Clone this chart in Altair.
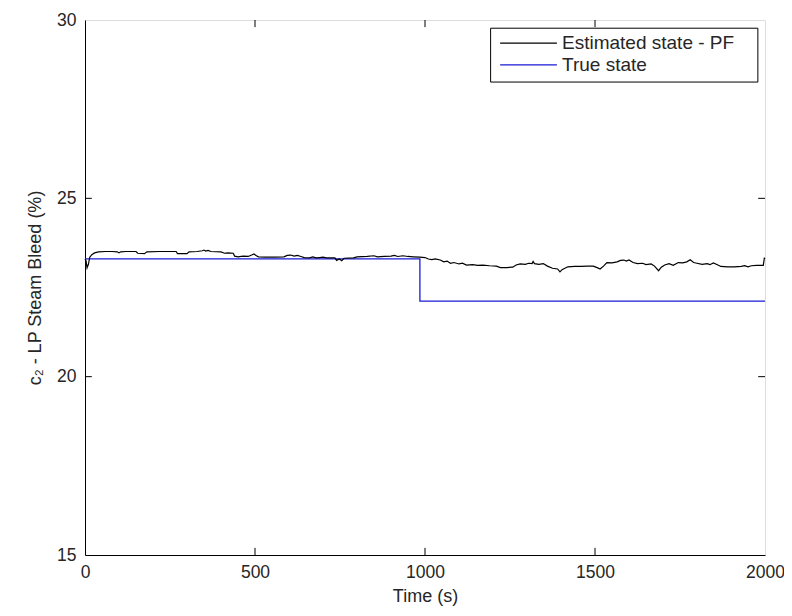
import altair as alt
import pandas as pd

# ---------------- data ----------------
est_time = [0, 3, 6, 10, 14, 20, 28, 40, 60, 80, 95, 100, 105, 120, 150, 155, 175, 182, 220, 240,
            268, 272, 300, 306, 330, 345, 350, 355, 362, 370, 400, 405, 410, 420, 436, 440, 450, 465,
            480, 490, 497, 503, 510, 530, 560, 585, 595, 605, 615, 625, 635, 645, 660, 670, 680, 690,
            700, 710, 735, 740, 748, 755, 762, 790, 800, 830, 850, 860, 880, 900, 910, 920, 935, 950,
            965, 985, 1000, 1010, 1020, 1030, 1045, 1055, 1065, 1075, 1085, 1100, 1110, 1122, 1140,
            1155, 1170, 1190, 1210, 1222, 1240, 1258, 1268, 1280, 1295, 1305, 1315, 1318, 1322, 1335,
            1348, 1360, 1375, 1390, 1397, 1403, 1420, 1440, 1460, 1476, 1495, 1508, 1515, 1525, 1535,
            1550, 1565, 1575, 1585, 1592, 1600, 1612, 1625, 1640, 1650, 1665, 1675, 1687, 1695, 1705,
            1718, 1730, 1745, 1758, 1770, 1780, 1790, 1800, 1815, 1830, 1838, 1848, 1860, 1870, 1890,
            1910, 1930, 1940, 1950, 1960, 1975, 1990, 1995, 1998, 2000]
est_value = [23.30, 23.25, 23.05, 23.15, 23.35, 23.42, 23.47, 23.50, 23.51, 23.51, 23.50, 23.47, 23.50,
             23.51, 23.51, 23.46, 23.45, 23.50, 23.51, 23.51, 23.51, 23.45, 23.45, 23.50, 23.51, 23.53,
             23.55, 23.52, 23.54, 23.51, 23.50, 23.48, 23.46, 23.47, 23.46, 23.38, 23.36, 23.38, 23.37,
             23.41, 23.44, 23.40, 23.36, 23.35, 23.35, 23.36, 23.40, 23.41, 23.38, 23.40, 23.37, 23.34,
             23.33, 23.36, 23.33, 23.34, 23.35, 23.33, 23.33, 23.26, 23.30, 23.25, 23.32, 23.33, 23.36,
             23.37, 23.39, 23.36, 23.37, 23.38, 23.40, 23.37, 23.39, 23.37, 23.36, 23.35, 23.34, 23.30,
             23.28, 23.30, 23.27, 23.22, 23.24, 23.18, 23.20, 23.16, 23.18, 23.13, 23.14, 23.12, 23.13,
             23.11, 23.10, 23.06, 23.06, 23.07, 23.13, 23.16, 23.15, 23.18, 23.17, 23.23, 23.17, 23.15,
             23.17, 23.10, 23.04, 23.02, 22.94, 23.00, 23.08, 23.09, 23.09, 23.10, 23.10, 23.05, 23.02,
             23.10, 23.20, 23.19, 23.22, 23.26, 23.27, 23.24, 23.27, 23.20, 23.17, 23.18, 23.14, 23.16,
             23.10, 22.97, 23.07, 23.13, 23.17, 23.12, 23.20, 23.19, 23.22, 23.28, 23.20, 23.18, 23.15,
             23.17, 23.14, 23.19, 23.14, 23.09, 23.08, 23.08, 23.09, 23.11, 23.08, 23.11, 23.12, 23.12,
             23.12, 23.32, 23.30]
true_time = [0, 985, 985, 2000]
true_value = [23.3, 23.3, 22.12, 22.12]

x_ticks = [0, 500, 1000, 1500, 2000]
y_ticks = [15, 20, 25, 30]
legend_labels = ["Estimated state - PF", "True state"]
colors = ["#000000", "#1a1ad6"]

FONT = "Liberation Sans"
TXT = "#262626"

xscale = alt.Scale(domain=[0, 2000], nice=False, zero=False)
yscale = alt.Scale(domain=[15, 30], nice=False, zero=False)

xaxis = alt.Axis(values=x_ticks, format="d", grid=False, ticks=False, tickSize=0,
                 labelPadding=8, labelFontSize=17.5, labelFont=FONT, labelColor=TXT,
                 domainColor="black", title="Time (s)", titleFont=FONT, titleFontSize=18,
                 titleFontWeight="normal", titleColor=TXT, titlePadding=7,
                 labelFlush=False, labelOverlap=False)
yaxis = alt.Axis(values=y_ticks, format="d", grid=False, ticks=False, tickSize=0,
                 labelPadding=9, labelFontSize=17.5, labelFont=FONT, labelColor=TXT,
                 domainColor="black", title="c₂ - LP Steam Bleed (%)", titleFont=FONT,
                 titleFontSize=18, titleFontWeight="normal", titleColor=TXT, titlePadding=12,
                 labelFlush=False, labelOverlap=False)


def X(field="t"):
    return alt.X(f"{field}:Q", scale=xscale, axis=xaxis)


def Y(field="v"):
    return alt.Y(f"{field}:Q", scale=yscale, axis=yaxis)


est_df = pd.DataFrame({"t": est_time, "v": est_value, "o": list(range(len(est_time)))})
true_df = pd.DataFrame({"t": true_time, "v": true_value, "o": list(range(len(true_time)))})

est_line = alt.Chart(est_df).mark_line(color=colors[0], strokeWidth=1.2).encode(
    x=X(), y=Y(), order="o:Q")
true_line = alt.Chart(true_df).mark_line(color=colors[1], strokeWidth=1.3).encode(
    x=X(), y=Y(), order="o:Q")

# inward tick marks (MATLAB box style)
tick_rows = []
for xv in x_ticks[1:-1]:
    tick_rows.append({"t": xv, "t2": xv, "v": 15, "v2": 15.2})
    tick_rows.append({"t": xv, "t2": xv, "v": 29.8, "v2": 30})
for yv in y_ticks[1:-1]:
    tick_rows.append({"t": 0, "t2": 20, "v": yv, "v2": yv})
    tick_rows.append({"t": 1980, "t2": 2000, "v": yv, "v2": yv})
ticks = alt.Chart(pd.DataFrame(tick_rows)).mark_rule(color="black", strokeWidth=1).encode(
    x=X(), x2="t2:Q", y=Y(), y2="v2:Q")

# legend (in data coordinates)
box = alt.Chart(pd.DataFrame([{"t": 1193, "t2": 1979, "v": 28.26, "v2": 29.77}])).mark_rect(
    fill="white", stroke="black", strokeWidth=1).encode(x=X(), x2="t2:Q", y=Y(), y2="v2:Q")
leg_rows = [{"t": 1221, "t2": 1388, "v": 29.35, "v2": 29.35, "lab": legend_labels[0], "c": colors[0]},
            {"t": 1221, "t2": 1388, "v": 28.74, "v2": 28.74, "lab": legend_labels[1], "c": colors[1]}]
leg_df = pd.DataFrame(leg_rows)
leg_lines = alt.Chart(leg_df).mark_rule(strokeWidth=1.2).encode(
    x=X(), x2="t2:Q", y=Y(), y2="v2:Q", color=alt.Color("c:N", scale=None))
leg_text = alt.Chart(leg_df).transform_calculate(tx="datum.t2 + 15").mark_text(
    align="left", baseline="middle", font=FONT, fontSize=19, color=TXT).encode(
    x=X("tx"), y=Y(), text="lab:N")

chart = alt.layer(true_line, est_line, ticks, box, leg_lines, leg_text).properties(
    width=680, height=535,
    autosize=alt.AutoSizeParams(type="none"),
    padding={"left": 77, "top": 12, "right": 19, "bottom": 53},
).configure_view(stroke="black", strokeWidth=1).configure(background="white")

chart.save("out.html", embed_options={"renderer": "svg", "actions": False})
